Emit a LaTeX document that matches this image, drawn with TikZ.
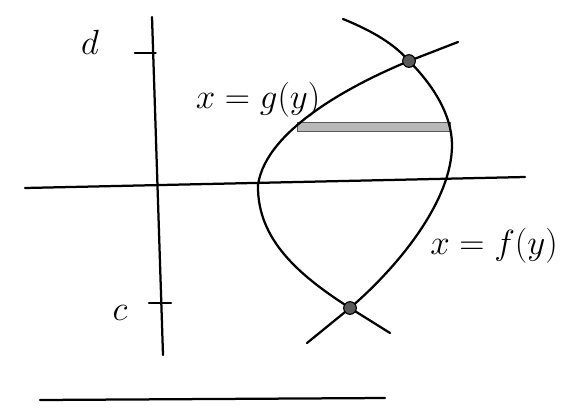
\documentclass[tikz,border=0pt]{standalone}
\usepackage{amsmath}
\usetikzlibrary{positioning}

\begin{document}
\begin{tikzpicture}[
  x=0.025cm,y=-0.025cm,
  every node/.style={font=\fontsize{25}{29}\selectfont},
  big/.style={font=\fontsize{30}{34}\selectfont},
  pen/.style={draw=black,line width=1.6pt,line cap=round},
  tick/.style={pen,line width=1.3pt},
  strip/.style={draw=gray!70!black,fill=gray!55,line width=0.6pt},
  dot/.style={circle,draw=black,fill=gray!70!black,line width=0.8pt,inner sep=0pt,minimum size=9pt}
]
\useasboundingbox (0,0) rectangle (581,417);

% axes
\coordinate (ytop) at (152,17);
\coordinate (ybot) at (163,355);
\coordinate (xl) at (25,188);
\coordinate (xr) at (525,177);
\draw[pen] (ytop) -- (ybot);
\draw[pen] (xl) -- (xr);

% ticks and bounds
\coordinate (dt) at (153,53);
\coordinate (ct) at (160,303);
\draw[tick] ([xshift=-13]dt) -- ([xshift=2]dt);
\draw[tick] ([xshift=-8]ct) -- ([xshift=8]ct);
\node[big] (dlbl) at (90,42) {$d$};
\node[big] (clbl) at (120,313) {$c$};

% the strip
\coordinate (sl) at (297,122);
\coordinate (sr) at (450,131);
\draw[strip] (sl) rectangle (sr);

% the two curves
\coordinate (top) at (409,61);
\coordinate (bot) at (350,308);
\coordinate (fs) at (343,19);
\coordinate (fe) at (307,343);
\coordinate (gs) at (458,42);
\coordinate (ge) at (390,333);
\draw[pen] (fs) .. controls (375,32) and (395,45) .. (top)
  .. controls (433,85) and (452,115) .. (452,145)
  .. controls (452,200) and (400,265) .. (bot) -- (fe);
\draw[pen] (gs) -- (top) .. controls (358,82) and (266,128) .. (258,185)
  .. controls (257,240) and (300,276) .. (bot) -- (ge);
\node[dot] (tdot) at (top) {};
\node[dot] (bdot) at (bot) {};

% labels
\node (glbl) at (258,100) {$x = g(y)$};
\node[font=\fontsize{27}{31}\selectfont] (flbl) at (494,246) {$x = f(y)$};

% rule under
\coordinate (ul) at (40,400);
\coordinate (ur) at (385,398);
\draw[pen] (ul) -- (ur);
\end{tikzpicture}
\end{document}
